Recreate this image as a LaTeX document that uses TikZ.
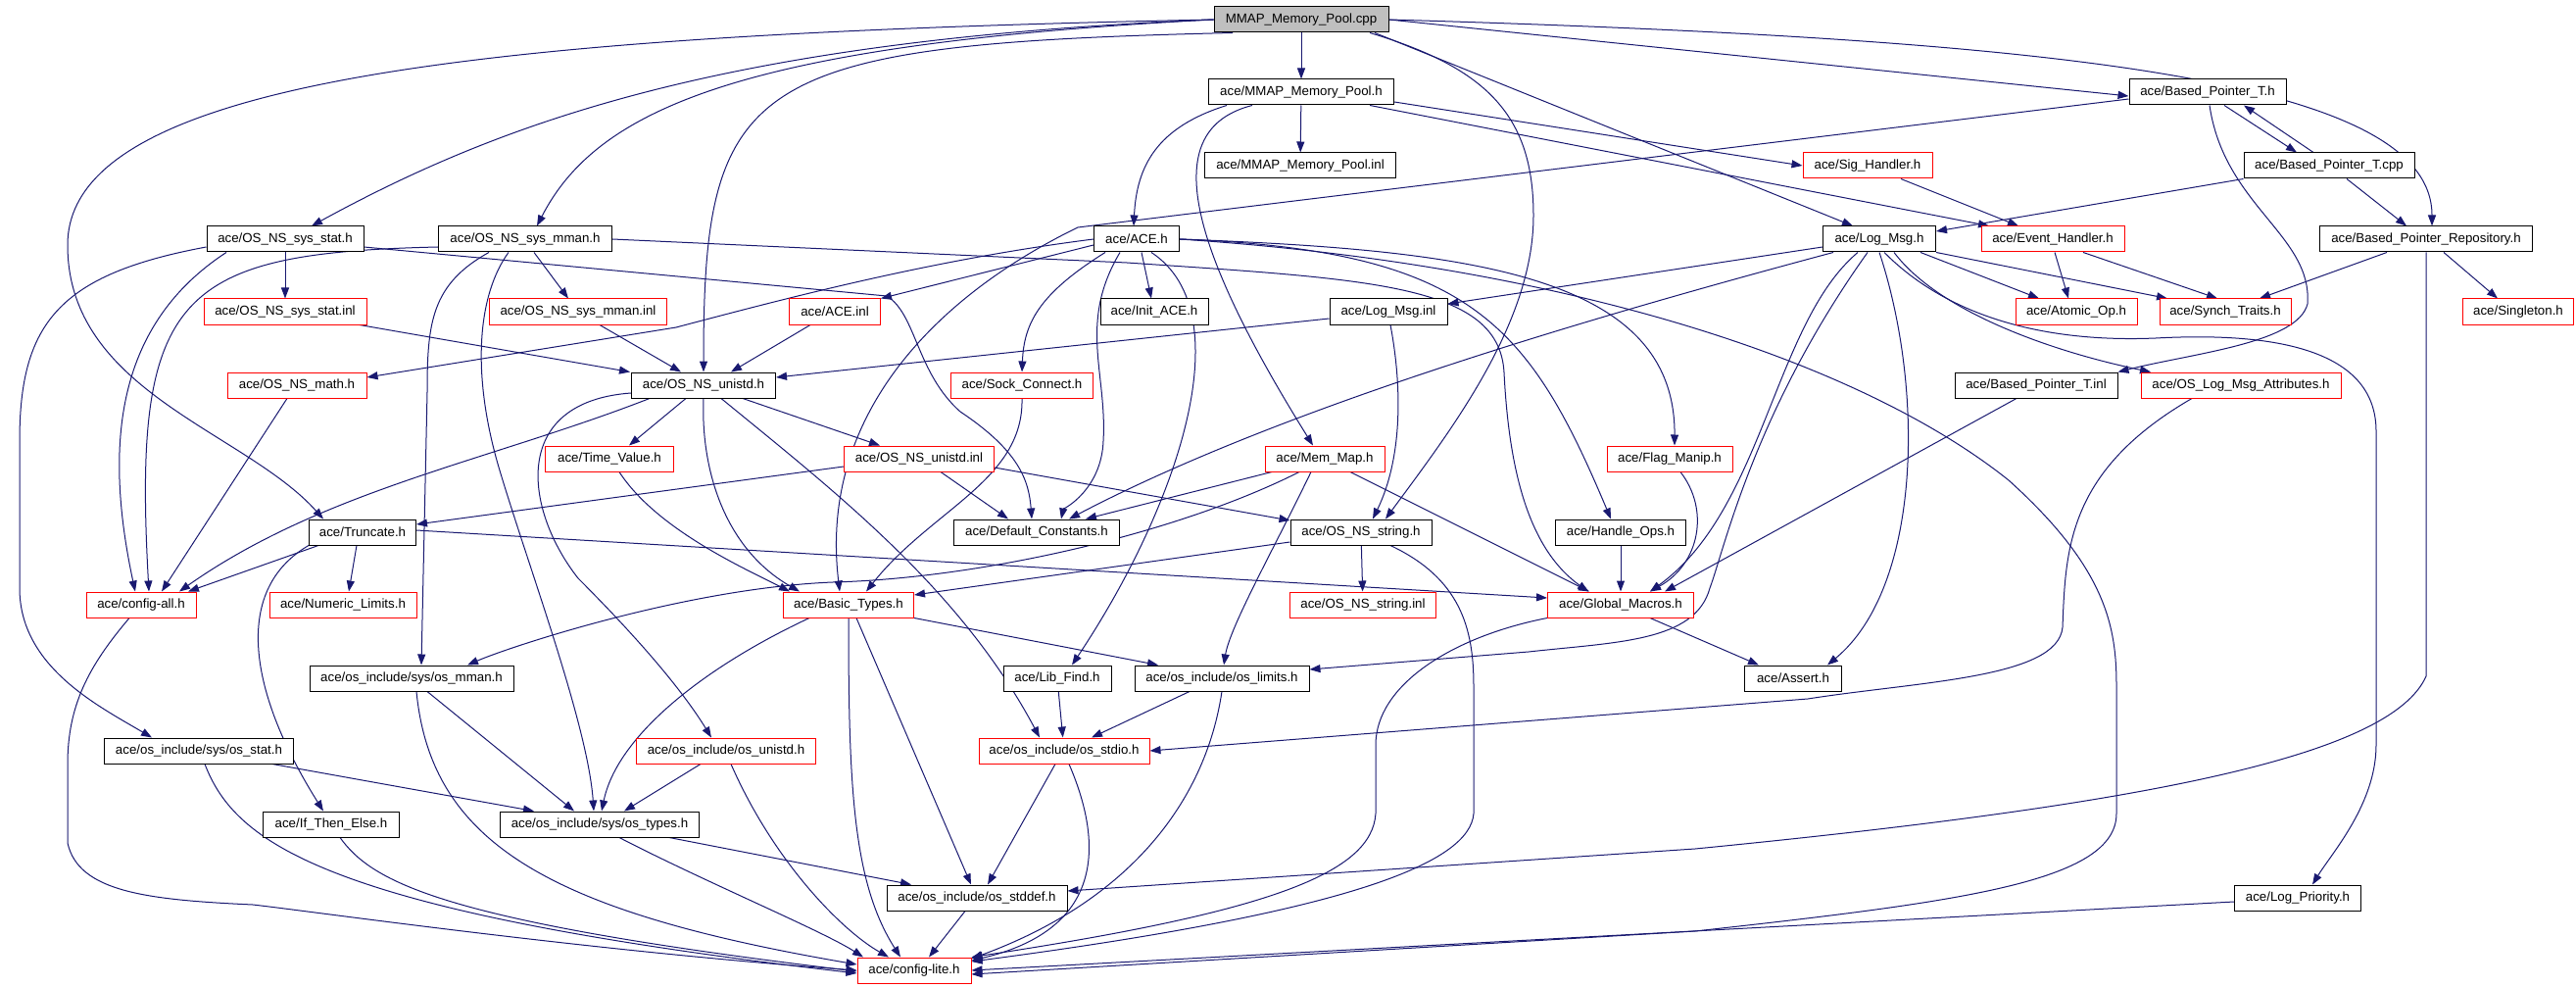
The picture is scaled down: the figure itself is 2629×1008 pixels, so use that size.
\documentclass[tikz,border=0pt]{standalone}
\usepackage{fontspec}
\setmainfont{Liberation Sans}
\usepackage{tikz}
\usetikzlibrary{arrows.meta}
\pgfdeclarelayer{bg}
\pgfsetlayers{bg,main}
\definecolor{edgeblue}{HTML}{191970}

\begin{document}
\begin{tikzpicture}[x=1pt,y=-1pt,
    file/.style={draw=black,fill=white,line width=1pt,minimum height=26pt,inner sep=0pt,font=\fontsize{13.3}{16}\selectfont},
    miss/.style={file,draw=red},
    inc/.style={draw=edgeblue,line width=1pt,-{Triangle[length=11pt,width=8pt]}}]
\useasboundingbox (0,0) rectangle (2629,1008);

\node[file,fill=gray!50,minimum width=178pt] (cpp) at (1328,20) {MMAP\_Memory\_Pool.cpp};
\node[file,minimum width=189pt] (mmaph) at (1328,94) {ace/MMAP\_Memory\_Pool.h};
\node[file,minimum width=195pt] (mmapinl) at (1327,169) {ace/MMAP\_Memory\_Pool.inl};
\node[file,minimum width=160pt] (bpth) at (2253,94) {ace/Based\_Pointer\_T.h};
\node[miss,minimum width=132pt] (sigh) at (1906,169) {ace/Sig\_Handler.h};
\node[file,minimum width=174pt] (bptcpp) at (2377,169) {ace/Based\_Pointer\_T.cpp};
\node[file,minimum width=160pt] (sysstat) at (291,244) {ace/OS\_NS\_sys\_stat.h};
\node[file,minimum width=177pt] (sysmman) at (536,244) {ace/OS\_NS\_sys\_mman.h};
\node[file,minimum width=87pt] (aceh) at (1160,244) {ace/ACE.h};
\node[file,minimum width=115pt] (logmsg) at (1918,244) {ace/Log\_Msg.h};
\node[miss,minimum width=146pt] (evh) at (2095,244) {ace/Event\_Handler.h};
\node[file,minimum width=217pt] (bprepo) at (2476,244) {ace/Based\_Pointer\_Repository.h};
\node[miss,minimum width=166pt] (sysstatinl) at (291,318) {ace/OS\_NS\_sys\_stat.inl};
\node[miss,minimum width=181pt] (sysmmaninl) at (590,318) {ace/OS\_NS\_sys\_mman.inl};
\node[miss,minimum width=93pt] (aceinl) at (852,318) {ace/ACE.inl};
\node[file,minimum width=110pt] (initace) at (1178,318) {ace/Init\_ACE.h};
\node[file,minimum width=120pt] (logmsginl) at (1417,318) {ace/Log\_Msg.inl};
\node[miss,minimum width=124pt] (atomic) at (2119,318) {ace/Atomic\_Op.h};
\node[miss,minimum width=134pt] (synch) at (2271,318) {ace/Synch\_Traits.h};
\node[miss,minimum width=113pt] (singleton) at (2570,318) {ace/Singleton.h};
\node[miss,minimum width=142pt] (osmath) at (303,393) {ace/OS\_NS\_math.h};
\node[file,minimum width=147pt] (unistd) at (718,393) {ace/OS\_NS\_unistd.h};
\node[miss,minimum width=145pt] (sock) at (1043,393) {ace/Sock\_Connect.h};
\node[file,minimum width=166pt] (bptinl) at (2078,393) {ace/Based\_Pointer\_T.inl};
\node[miss,minimum width=204pt] (oslogattr) at (2287,393) {ace/OS\_Log\_Msg\_Attributes.h};
\node[miss,minimum width=131pt] (timeval) at (622,468) {ace/Time\_Value.h};
\node[miss,minimum width=153pt] (unistdinl) at (938,468) {ace/OS\_NS\_unistd.inl};
\node[miss,minimum width=122pt] (memmap) at (1352,468) {ace/Mem\_Map.h};
\node[miss,minimum width=128pt] (flag) at (1704,468) {ace/Flag\_Manip.h};
\node[file,minimum width=109pt] (truncate) at (370,543) {ace/Truncate.h};
\node[file,minimum width=169pt] (defconst) at (1058,543) {ace/Default\_Constants.h};
\node[file,minimum width=144pt] (osstring) at (1389,543) {ace/OS\_NS\_string.h};
\node[file,minimum width=133pt] (handle) at (1654,543) {ace/Handle\_Ops.h};
\node[miss,minimum width=112pt] (configall) at (144,617) {ace/config-all.h};
\node[miss,minimum width=150pt] (numlim) at (350,617) {ace/Numeric\_Limits.h};
\node[miss,minimum width=133pt] (basic) at (866,617) {ace/Basic\_Types.h};
\node[miss,minimum width=149pt] (osstringinl) at (1391,617) {ace/OS\_NS\_string.inl};
\node[miss,minimum width=149pt] (globalm) at (1654,617) {ace/Global\_Macros.h};
\node[file,minimum width=208pt] (osmman) at (420,692) {ace/os\_include/sys/os\_mman.h};
\node[file,minimum width=110pt] (libfind) at (1079,692) {ace/Lib\_Find.h};
\node[file,minimum width=178pt] (oslimits) at (1247,692) {ace/os\_include/os\_limits.h};
\node[file,minimum width=99pt] (assert) at (1830,692) {ace/Assert.h};
\node[file,minimum width=193pt] (osstat) at (203,766) {ace/os\_include/sys/os\_stat.h};
\node[miss,minimum width=183pt] (osunistd) at (741,766) {ace/os\_include/os\_unistd.h};
\node[miss,minimum width=174pt] (osstdio) at (1086,766) {ace/os\_include/os\_stdio.h};
\node[file,minimum width=139pt] (ifthen) at (338,841) {ace/If\_Then\_Else.h};
\node[file,minimum width=203pt] (ostypes) at (612,841) {ace/os\_include/sys/os\_types.h};
\node[file,minimum width=184pt] (osstddef) at (997,916) {ace/os\_include/os\_stddef.h};
\node[file,minimum width=129pt] (logprio) at (2345,916) {ace/Log\_Priority.h};
\node[miss,minimum width=116pt] (configlite) at (933,990) {ace/config-lite.h};

\begin{pgfonlayer}{bg}
\draw[inc] (cpp) -- (mmaph);
\draw[inc] (cpp.west) .. controls (750,40) and (520,120) .. ([xshift=27pt]sysstat.north);
\draw[inc] (cpp.west) .. controls (760,45) and (610,110) .. ([xshift=12pt]sysmman.north);
\draw[inc] ([xshift=-70pt]cpp.south) .. controls (760,45) and (718,80) .. (unistd.north);
\draw[inc] (cpp.west) .. controls (500,35) and (69,80) .. (69,250) .. controls (69,400) and (250,440) .. ([xshift=-40pt]truncate.north);
\draw[inc] ([xshift=70pt]cpp.south) .. controls (1520,70) and (1565,120) .. (1565,220) .. controls (1565,330) and (1480,440) .. ([xshift=25pt]osstring.north);
\draw[inc] ([xshift=75pt]cpp.south) -- ([xshift=-27pt]logmsg.north);
\draw[inc] (cpp.east) -- ([yshift=-4pt]bpth.west);
\draw[inc] (cpp.east) .. controls (2100,40) and (2482,80) .. ([xshift=6pt]bprepo.north);

\draw[inc] (mmaph) -- (mmapinl);
\draw[inc] ([xshift=-76pt]mmaph.south) .. controls (1180,130) and (1160,170) .. ([xshift=-3pt]aceh.north);
\draw[inc] ([xshift=-50pt]mmaph.south) .. controls (1190,130) and (1200,230) .. ([xshift=-12pt]memmap.north);
\draw[inc] ([yshift=-10pt]mmaph.east) -- (sigh.west);
\draw[inc] ([xshift=70pt]mmaph.south) -- ([xshift=-65pt]evh.north);

\draw[inc] ([xshift=17pt]bpth.south) -- ([xshift=-33pt]bptcpp.north);
\draw[inc] ([xshift=-16pt]bptcpp.north) -- ([xshift=37pt]bpth.south);
\draw[inc] ([yshift=-7pt]bpth.west) -- (1100,232) .. controls (960,300) and (835,420) .. ([xshift=-9pt]basic.north);
\draw[inc] ([xshift=2pt]bpth.south) .. controls (2270,210) and (2360,240) .. (2355,310) .. controls (2345,350) and (2240,360) .. (bptinl.north east);
\draw[inc] (bptcpp.south west) -- ([yshift=8pt]logmsg.east);
\draw[inc] ([xshift=18pt]bptcpp.south) -- ([xshift=-20pt]bprepo.north);
\draw[inc] ([xshift=34pt]sigh.south) -- ([xshift=-35pt]evh.north);
\draw[inc] ([xshift=2pt]evh.south) -- ([xshift=-8pt]atomic.north);
\draw[inc] ([xshift=31pt]evh.south) -- ([xshift=-8pt]synch.north);
\draw[inc] ([xshift=-40pt]bprepo.south) -- ([xshift=35pt]synch.north);
\draw[inc] ([xshift=18pt]bprepo.south) -- ([xshift=-21pt]singleton.north);
\draw[inc] (bprepo.south) -- (2476,690) .. controls (2440,770) and (2200,820) .. (1730,866) -- ([yshift=7pt]osstddef.east);

\draw[inc] ([xshift=42pt]logmsg.south) -- ([xshift=-38pt]atomic.north);
\draw[inc] (logmsg.south east) -- ([xshift=-59pt]synch.north);
\draw[inc] ([yshift=-8pt]logmsg.west) -- ([yshift=8pt]logmsginl.east);
\draw[inc] ([xshift=-47pt]logmsg.south) .. controls (1600,330) and (1300,420) .. ([xshift=33pt]defconst.north);
\draw[inc] ([xshift=-22pt]logmsg.south) .. controls (1810,330) and (1800,520) .. ([xshift=30pt]globalm.north);
\draw[inc] (logmsg.south) .. controls (1965,400) and (1960,600) .. ([xshift=35pt]assert.north);
\draw[inc] ([xshift=-12pt]logmsg.south) .. controls (1790,420) and (1760,560) .. (1745,600) .. controls (1730,655) and (1650,655) .. (1560,665) -- ([yshift=9pt]oslimits.east);
\draw[inc] ([xshift=15pt]logmsg.south) .. controls (1980,320) and (2100,360) .. ([xshift=-92pt]oslogattr.north);
\draw[inc] ([xshift=5pt]logmsg.south) .. controls (1985,320) and (2080,350) .. (2200,345) .. controls (2330,338) and (2425,360) .. (2425,440) -- (2425,760) .. controls (2425,820) and (2380,870) .. ([xshift=15pt]logprio.north);

\draw[inc] ([xshift=-20pt]bptinl.south) -- ([xshift=45pt]globalm.north);
\draw[inc] ([xshift=-50pt]oslogattr.south) .. controls (2110,480) and (2108,560) .. (2105,640) .. controls (2100,692) and (1960,695) .. (1845,713) -- (osstdio.east);
\draw[inc] (handle) -- (globalm);
\draw[inc] ([xshift=11pt]flag.south) .. controls (1745,520) and (1735,575) .. ([xshift=30pt]globalm.north);

\draw[inc] (aceh.east) .. controls (1500,255) and (1560,330) .. ([xshift=-10pt]handle.north);
\draw[inc] (aceh.east) .. controls (1500,255) and (1710,280) .. ([xshift=5pt]flag.north);
\draw[inc] (aceh.east) .. controls (1600,270) and (1900,370) .. (2050,490) .. controls (2150,580) and (2160,640) .. (2160,700) -- (2160,830) .. controls (2160,900) and (2000,920) .. (1730,950) -- ([yshift=-4pt]configlite.east);
\draw[inc] (aceh.west) .. controls (950,265) and (800,305) .. (690,334) -- ([yshift=8pt]osmath.east);
\draw[inc] ([yshift=-6pt]aceh.west) -- (aceinl.north east);
\draw[inc] ([xshift=5pt]aceh.south) -- ([xshift=-3pt]initace.north);
\draw[inc] ([xshift=-32pt]aceh.south) .. controls (1060,300) and (1045,330) .. (sock.north);
\draw[inc] ([xshift=-17pt]aceh.south) .. controls (1100,330) and (1130,380) .. (1126,450) .. controls (1124,500) and (1085,520) .. ([xshift=25pt]defconst.north);
\draw[inc] ([xshift=15pt]aceh.south) .. controls (1270,320) and (1200,520) .. ([xshift=15pt]libfind.north);

\draw[inc] ([xshift=-54pt]memmap.south) -- ([xshift=50pt]defconst.north);
\draw[inc] ([xshift=-26pt]memmap.south) .. controls (1200,545) and (1000,590) .. (850,594) .. controls (700,600) and (520,660) .. ([xshift=57pt]osmman.north);
\draw[inc] ([xshift=-14pt]memmap.south) .. controls (1300,560) and (1255,640) .. ([xshift=2pt]oslimits.north);
\draw[inc] ([xshift=26pt]memmap.south) -- ([xshift=-32pt]globalm.north);

\draw[inc] ([yshift=-7pt]logmsginl.west) -- ([yshift=8pt]unistd.east);
\draw[inc] ([xshift=2pt]logmsginl.south) .. controls (1432,400) and (1430,470) .. ([xshift=12pt]osstring.north);

\draw[inc] ([xshift=76pt]sysstatinl.south) -- ([xshift=-75pt]unistd.north);
\draw[inc] ([xshift=22pt]sysmmaninl.south) -- ([xshift=-23pt]unistd.north);
\draw[inc] ([xshift=-25pt]aceinl.south) -- ([xshift=28pt]unistd.north);
\draw[inc] (sysstat) -- (sysstatinl);
\draw[inc] ([xshift=9pt]sysmman.south) -- ([xshift=-10pt]sysmmaninl.north);
\draw[inc] ([xshift=-60pt]sysstat.south) .. controls (120,330) and (105,450) .. ([xshift=-6pt]configall.north);
\draw[inc] ([yshift=-8pt]sysstat.west) .. controls (60,280) and (20,330) .. (20,450) -- (20,600) .. controls (20,680) and (100,720) .. ([xshift=-48pt]osstat.north);
\draw[inc] ([yshift=-8pt]sysstat.east) -- (905,302) .. controls (935,320) and (935,380) .. (980,420) .. controls (1040,460) and (1050,490) .. ([xshift=-5pt]defconst.north);
\draw[inc] ([yshift=-8pt]sysmman.west) .. controls (180,258) and (135,300) .. ([xshift=8pt]configall.north);
\draw[inc] ([xshift=-37pt]sysmman.south) .. controls (440,290) and (436,330) .. (436,400) -- ([xshift=10pt]osmman.north);
\draw[inc] ([xshift=-17pt]sysmman.south) .. controls (488,300) and (480,380) .. (510,480) .. controls (540,580) and (600,740) .. ([xshift=-6pt]ostypes.north);
\draw[inc] (sysmman.east) -- (1150,268) .. controls (1400,285) and (1530,290) .. (1535,380) .. controls (1540,480) and (1560,560) .. ([xshift=-33pt]globalm.north);

\draw[inc] ([xshift=-10pt]osmath.south) -- ([xshift=21pt]configall.north);
\draw[inc] ([xshift=-55pt]unistd.south) .. controls (500,470) and (330,500) .. ([xshift=39pt]configall.north);
\draw[inc] ([xshift=-45pt]truncate.south) -- ([xshift=48pt]configall.north);
\draw[inc] ([xshift=-6pt]truncate.south) -- ([xshift=6pt]numlim.north);
\draw[inc] ([yshift=2pt]truncate.east) -- ([yshift=7pt]globalm.west);
\draw[inc] (truncate.south west) .. controls (240,600) and (250,700) .. ([xshift=-8pt]ifthen.north);

\draw[inc] ([xshift=-18pt]unistd.south) -- ([xshift=20pt]timeval.north);
\draw[inc] ([xshift=40pt]unistd.south) -- ([xshift=-40pt]unistdinl.north);
\draw[inc] (unistd.south) .. controls (715,480) and (740,560) .. ([xshift=-50pt]basic.north);
\draw[inc] ([xshift=18pt]unistd.south) .. controls (850,500) and (980,600) .. ([xshift=-25pt]osstdio.north);
\draw[inc] ([yshift=-8pt]unistd.west) .. controls (520,410) and (535,520) .. (590,590) .. controls (660,660) and (700,710) .. ([xshift=-15pt]osunistd.north);
\draw[inc] ([xshift=10pt]timeval.south) .. controls (670,540) and (760,580) .. ([xshift=-60pt]basic.north);
\draw[inc] ([yshift=-8pt]unistdinl.west) -- ([yshift=8pt]truncate.east);
\draw[inc] ([xshift=22pt]unistdinl.south) -- ([xshift=-29pt]defconst.north);
\draw[inc] ([yshift=-9pt]unistdinl.east) -- ([yshift=12pt]osstring.west);
\draw[inc] (sock.south) .. controls (1045,490) and (950,520) .. ([xshift=18pt]basic.north);

\draw[inc] (osstring) -- (osstringinl);
\draw[inc] ([yshift=-10pt]osstring.west) -- ([yshift=10pt]basic.east);
\draw[inc] ([xshift=30pt]osstring.south) .. controls (1490,590) and (1504,640) .. (1504,700) -- (1504,830) .. controls (1500,880) and (1380,930) .. ([yshift=9pt]configlite.east);
\draw[inc] (globalm.south west) .. controls (1480,650) and (1404,700) .. (1404,760) -- (1404,830) .. controls (1400,890) and (1300,930) .. (configlite.north east);
\draw[inc] ([xshift=30pt]globalm.south) -- ([xshift=-35pt]assert.north);

\draw[inc] ([xshift=-40pt]basic.south) .. controls (720,680) and (630,750) .. ([xshift=2pt]ostypes.north);
\draw[inc] (basic.south) .. controls (866,800) and (870,900) .. ([xshift=-14pt]configlite.north);
\draw[inc] ([xshift=8pt]basic.south) -- ([xshift=-6pt]osstddef.north);
\draw[inc] (basic.south east) -- ([xshift=-65pt]oslimits.north);

\draw[inc] (libfind) -- (osstdio);
\draw[inc] ([xshift=-33pt]oslimits.south) -- ([xshift=28pt]osstdio.north);
\draw[inc] (oslimits.south) .. controls (1230,820) and (1150,920) .. ([yshift=12pt]configlite.east);
\draw[inc] ([xshift=-9pt]osstdio.south) -- ([xshift=11pt]osstddef.north);
\draw[inc] ([xshift=5pt]osstdio.south) .. controls (1130,870) and (1120,950) .. ([yshift=10pt]configlite.east);
\draw[inc] ([xshift=-12pt]osstddef.south) -- ([xshift=15pt]configlite.north);
\draw[inc] ([yshift=-4pt]logprio.west) -- (configlite.east);

\draw[inc] ([xshift=-12pt]configall.south) .. controls (90,680) and (69,720) .. (69,780) -- (69,860) .. controls (80,910) and (150,918) .. (258,923) .. controls (320,930) and (600,970) .. (configlite.west);
\draw[inc] ([xshift=6pt]osstat.south) .. controls (240,860) and (330,930) .. ([yshift=-3pt]configlite.west);
\draw[inc] ([xshift=75pt]osstat.south) -- ([xshift=-67pt]ostypes.north);
\draw[inc] ([xshift=9pt]ifthen.south) .. controls (380,900) and (450,940) .. ([yshift=-1pt]configlite.west);
\draw[inc] ([xshift=5pt]osmman.south) .. controls (440,860) and (560,930) .. ([yshift=6pt]configlite.west);
\draw[inc] ([xshift=16pt]osmman.south) -- ([xshift=-26pt]ostypes.north);
\draw[inc] ([xshift=-26pt]osunistd.south) -- ([xshift=25pt]ostypes.north);
\draw[inc] ([xshift=5pt]osunistd.south) .. controls (790,880) and (860,950) .. ([xshift=-26pt]configlite.north);
\draw[inc] ([xshift=71pt]ostypes.south) -- ([xshift=-67pt]osstddef.north);
\draw[inc] ([xshift=20pt]ostypes.south) .. controls (720,900) and (840,950) .. ([xshift=-52pt]configlite.north);
\end{pgfonlayer}
\end{tikzpicture}
\end{document}
